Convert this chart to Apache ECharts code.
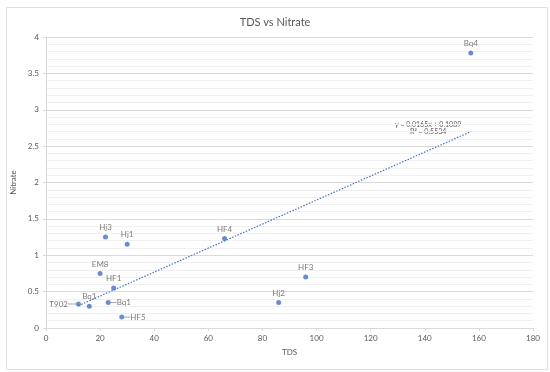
<!DOCTYPE html>
<html>
<head>
<meta charset="utf-8">
<script src="https://cdn.jsdelivr.net/npm/echarts@6/dist/echarts.min.js"></script>
<style>
html,body{margin:0;padding:0;background:#fff;}
#c{width:550px;height:372px;}
</style>
</head>
<body>
<div id="c"></div>
<script>
const sampleNames = ['Bq4','HF4','HF3','Hj2','Hj3','Hj1','EM8','HF1','Bq1','Bq1','T902','HF5'];
const tdsValues =   [157, 66, 96, 86, 22, 30, 20, 25, 16, 23, 12, 28];
const nitrateValues=[3.78,1.23,0.70,0.35,1.25,1.15,0.75,0.55,0.30,0.35,0.33,0.15];
const labelSides =  ['top','top','top','top','top','top','top','top','top','right','left','right'];
const trendSlope = 0.0165;
const trendIntercept = 0.1089;
const trendR2 = 0.5534;
const xTicks = [0,20,40,60,80,100,120,140,160,180];
const yTicks = [0,0.5,1,1.5,2,2.5,3,3.5,4];

const FONT = 'Lato, "Open Sans", sans-serif';
const TXT = '#595959';
const BLUE = '#4472C4';

const pts = tdsValues.map((x,i)=>({
  value:[x, nitrateValues[i]],
  name: sampleNames[i],
  label:{position: labelSides[i], distance: labelSides[i]==='top'?3:0,
    padding: labelSides[i]==='top'?0:[0,2]},
  labelLine:{show: labelSides[i]!=='top'}
}));
const minX = Math.min(...tdsValues), maxX = Math.max(...tdsValues);
const trend = [minX, maxX].map(x=>[x, trendSlope*x + trendIntercept]);
const shift = {left:-6, right:4};

const chart = echarts.init(document.getElementById('c'), null, {renderer:'canvas'});
chart.setOption({
  animation:false,
  backgroundColor:'#fff',
  title:{text:'TDS vs Nitrate', left:'center', top:12,
    textStyle:{fontFamily:FONT, fontSize:11, fontWeight:'normal', color:TXT}},
  grid:{left:46, right:17, top:37, bottom:44},
  xAxis:{type:'value', min:0, max:180, interval:20,
    name:'TDS', nameLocation:'middle', nameGap:20,
    nameTextStyle:{fontFamily:FONT, fontSize:8, color:TXT},
    axisLine:{show:true, onZero:false, lineStyle:{color:'#d9d9d9'}},
    axisTick:{show:true, length:3, lineStyle:{color:'#d9d9d9'}},
    axisLabel:{fontFamily:FONT, fontSize:8, color:TXT, margin:6},
    splitLine:{show:false}},
  yAxis:{type:'value', min:0, max:4, interval:0.5,
    name:'Nitrate', nameLocation:'middle', nameGap:23,
    nameTextStyle:{fontFamily:FONT, fontSize:8, color:TXT},
    axisLine:{show:true, lineStyle:{color:'#d9d9d9'}},
    axisTick:{show:true, length:3, lineStyle:{color:'#d9d9d9'}},
    axisLabel:{fontFamily:FONT, fontSize:8, color:TXT, margin:7},
    splitLine:{show:true, lineStyle:{color:'#d9d9d9', width:1}},
    minorTick:{show:false, splitNumber:5},
    minorSplitLine:{show:true, lineStyle:{color:'#f0f0f0', width:1}}},
  series:[
    {type:'line', data:trend, symbol:'none', silent:true, z:1,
      lineStyle:{color:BLUE, width:1.2, type:[1.5,1.5]}},
    {type:'scatter', data:pts, symbolSize:5, z:3,
      itemStyle:{color:BLUE},
      label:{show:true, formatter:'{b}', fontFamily:FONT, fontSize:8, color:TXT},
      labelLine:{lineStyle:{color:'#a6a6a6', width:1}},
      labelLayout:function(p){
        const s = labelSides[p.dataIndex];
        if (s in shift) return {dx: shift[s]};
        return {};
      }}
  ],
  graphic:[
    {type:'rect', left:4, top:5, shape:{width:541, height:362},
      style:{fill:'none', stroke:'#e0e0e0', lineWidth:1}, silent:true, z:-10},
    {type:'text', left:395, top:121,
      style:{text:'y = ' + trendSlope + 'x + ' + trendIntercept, fontFamily:FONT, fontSize:7, fill:TXT}},
    {type:'text', left:410, top:128,
      style:{text:'R² = ' + trendR2, fontFamily:FONT, fontSize:7, fill:TXT}}
  ]
});
</script>
</body>
</html>
